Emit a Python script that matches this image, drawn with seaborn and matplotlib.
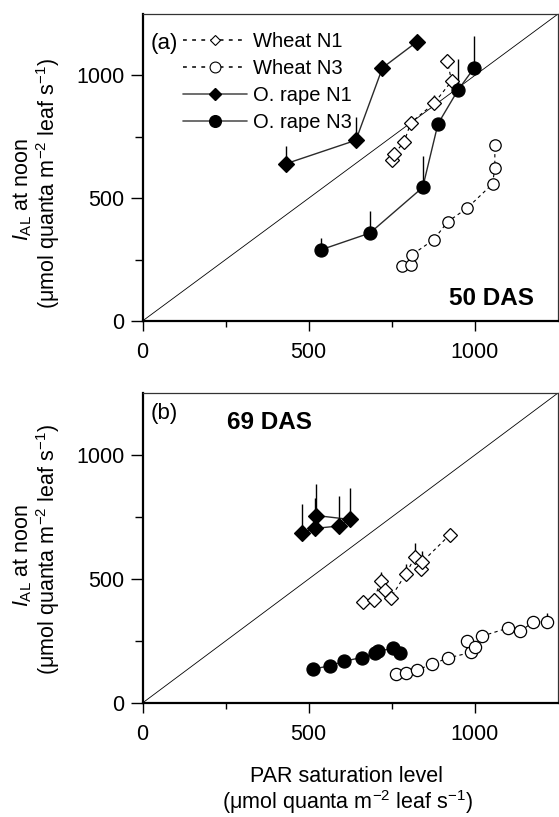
import numpy as np
import pandas as pd
import matplotlib
matplotlib.use('Agg')
import matplotlib.pyplot as plt
import seaborn as sns
from matplotlib.lines import Line2D
from matplotlib.ticker import FixedLocator

# ---------------- data ----------------
# Panel (a) 50 DAS
a_wheat_n1_x = [752, 758, 787, 807, 877, 930, 917]
a_wheat_n1_y = [657, 682, 729, 807, 886, 977, 1058]
a_wheat_n1_err = [0, 0, 0, 0, 35, 0, 0]

a_wheat_n3_x = [782, 807, 810, 876, 918, 977, 1053, 1060, 1060]
a_wheat_n3_y = [222, 229, 269, 331, 404, 460, 558, 623, 718]
a_wheat_n3_err = [25, 0, 0, 0, 0, 0, 0, 0, 0]

a_rape_n1_x = [433, 642, 722, 825]
a_rape_n1_y = [641, 736, 1031, 1136]
a_rape_n1_err = [71, 95, 0, 0]

a_rape_n3_x = [537, 684, 843, 889, 949, 997]
a_rape_n3_y = [290, 358, 544, 803, 940, 1029]
a_rape_n3_err = [48, 91, 127, 0, 125, 131]

# Panel (b) 69 DAS
b_wheat_n1_x = [664, 695, 717, 730, 747, 792, 820, 837, 840, 925]
b_wheat_n1_y = [407, 414, 491, 454, 424, 521, 588, 541, 567, 679]
b_wheat_n1_err = [20, 29, 36, 0, 0, 38, 56, 30, 47, 0]

b_wheat_n3_x = [762, 794, 825, 872, 920, 989, 977, 1000, 1020, 1099, 1137, 1175, 1217]
b_wheat_n3_y = [115, 122, 133, 157, 182, 204, 250, 226, 269, 302, 289, 327, 327]
b_wheat_n3_err = [0, 0, 0, 0, 0, 0, 0, 0, 0, 0, 0, 0, 36]

b_rape_n1_x = [480, 519, 592, 625, 522]
b_rape_n1_y = [686, 704, 714, 740, 756]
b_rape_n1_err = [116, 122, 119, 126, 129]

b_rape_n3_x = [512, 565, 607, 659, 700, 709, 755, 774]
b_rape_n3_y = [137, 150, 169, 183, 200, 210, 220, 202]

series_labels = ["Wheat N1", "Wheat N3", "O. rape N1", "O. rape N3"]
tick_major = [0, 500, 1000]
tick_minor = [250, 750]

# ---------------- style ----------------
sns.set_style("ticks")
plt.rcParams['font.family'] = ['Liberation Sans', 'DejaVu Sans']
plt.rcParams['mathtext.fontset'] = 'custom'
plt.rcParams['mathtext.rm'] = 'Liberation Sans'
plt.rcParams['mathtext.it'] = 'Liberation Sans:italic'
plt.rcParams['mathtext.default'] = 'regular'
for k in ('text.color', 'axes.labelcolor', 'xtick.color', 'ytick.color'):
    plt.rcParams[k] = 'black'

W, H = 559, 817
fig = plt.figure(figsize=(W / 100, H / 100), dpi=100)

def px_axes(l, r, t, b):
    return fig.add_axes([l / W, 1 - b / H, (r - l) / W, (b - t) / H])

axA = px_axes(142.5, 558, 14, 321)
axB = px_axes(142.5, 558, 393, 703)

LINE_GRAY = '#2a2a2a'

def draw(ax, x, y, marker, filled, ms, dashed, err=None, mew=0.9):
    kw = dict(marker=marker, markersize=ms,
              markerfacecolor='black' if filled else 'white',
              markeredgecolor='black', markeredgewidth=mew,
              color='black' if dashed else LINE_GRAY,
              linewidth=0.8 if dashed else 1.0,
              linestyle=(0, (3, 3)) if dashed else '-')
    if err is not None:
        xs = [xi for xi, e in zip(x, err) if e > 0]
        y0 = [yi for yi, e in zip(y, err) if e > 0]
        y1 = [yi + e for yi, e in zip(y, err) if e > 0]
        ax.vlines(xs, y0, y1, color='black', linewidth=1.0, zorder=1.5)
    sns.lineplot(x=x, y=y, sort=False, estimator=None, ax=ax, zorder=3, **kw)

for ax in (axA, axB):
    ax.plot([0, 1250], [0, 1250], color='black', linewidth=0.6, zorder=1)

# panel a
draw(axA, a_wheat_n3_x, a_wheat_n3_y, 'o', False, 8.2, True, a_wheat_n3_err)
draw(axA, a_wheat_n1_x, a_wheat_n1_y, 'D', False, 7.4, True, a_wheat_n1_err)
draw(axA, a_rape_n1_x, a_rape_n1_y, 'D', True, 7.8, False, a_rape_n1_err)
draw(axA, a_rape_n3_x, a_rape_n3_y, 'o', True, 9.4, False, a_rape_n3_err)

# panel b
draw(axB, b_wheat_n3_x, b_wheat_n3_y, 'o', False, 8.8, True, b_wheat_n3_err)
draw(axB, b_wheat_n1_x, b_wheat_n1_y, 'D', False, 7.2, True, b_wheat_n1_err)
draw(axB, b_rape_n1_x, b_rape_n1_y, 'D', True, 8.0, False, b_rape_n1_err)
draw(axB, b_rape_n3_x, b_rape_n3_y, 'o', True, 9.4, False)

TICK_FS = 15.5
for ax in (axA, axB):
    ax.set_xlim(0, 1250)
    ax.set_ylim(0, 1250)
    ax.xaxis.set_major_locator(FixedLocator(tick_major))
    ax.yaxis.set_major_locator(FixedLocator(tick_major))
    ax.xaxis.set_minor_locator(FixedLocator(tick_minor))
    ax.yaxis.set_minor_locator(FixedLocator(tick_minor))
    ax.set_xticklabels([str(t) for t in tick_major])
    ax.set_yticklabels([str(t) for t in tick_major])
    ax.tick_params(axis='both', which='major', direction='out',
                   width=1.0, labelsize=TICK_FS, colors='black')
    ax.tick_params(axis='x', which='major', pad=8, length=7)
    ax.tick_params(axis='y', which='major', pad=4, length=9)
    ax.tick_params(axis='x', which='minor', direction='out', length=4.5, width=1.0)
    ax.tick_params(axis='y', which='minor', direction='out', length=6, width=1.0)
    for s in ('left', 'bottom'):
        ax.spines[s].set_linewidth(1.6)
        ax.spines[s].set_color('black')
    for s in ('top', 'right'):
        ax.spines[s].set_linewidth(0.9)
        ax.spines[s].set_color('#333333')
    ax.set_xlabel('')
    ax.set_ylabel('')
    ax.set_facecolor('white')

LAB_FS = 15.5
UNITS = r'($\mathrm{\mu}$mol quanta m$^{\mathrm{-2}}$ leaf s$^{\mathrm{-1}}$)'

def ylab(cy1, cy2):
    fig.text(23 / W, 1 - cy1 / H, r'$\mathit{I}_{\mathrm{AL}}$ at noon', rotation=90,
             ha='center', va='center', fontsize=LAB_FS)
    fig.text(48 / W, 1 - cy2 / H, UNITS,
             rotation=90, ha='center', va='center', fontsize=LAB_FS)

ylab(189, 184)
ylab(555, 550)

fig.text(347 / W, 1 - 776 / H, 'PAR saturation level', ha='center', va='center', fontsize=LAB_FS)
fig.text(347 / W, 1 - 802 / H, UNITS, ha='center', va='center', fontsize=LAB_FS)

# panel annotations
fig.text(151 / W, 1 - 43 / H, '(a)', ha='left', va='center', fontsize=16)
fig.text(534 / W, 1 - 298 / H, '50 DAS', ha='right', va='center', fontsize=17.5, fontweight='bold')
fig.text(151 / W, 1 - 414 / H, '(b)', ha='left', va='center', fontsize=16)
fig.text(227 / W, 1 - 422 / H, '69 DAS', ha='left', va='center', fontsize=17.5, fontweight='bold')

# legend
handles = [
    Line2D([], [], color='black', lw=1.1, ls=(0, (2.5, 3.5)), marker='D', ms=5.6,
           mfc='white', mec='black', mew=0.8),
    Line2D([], [], color='black', lw=1.1, ls=(0, (2.5, 3.5)), marker='o', ms=7.8,
           mfc='white', mec='black', mew=0.8),
    Line2D([], [], color='#555555', lw=1.2, ls='-', marker='D', ms=5.8,
           mfc='black', mec='black'),
    Line2D([], [], color='#555555', lw=1.2, ls='-', marker='o', ms=8.4,
           mfc='black', mec='black'),
]
leg = axA.legend(handles, series_labels, loc='upper left',
                 bbox_to_anchor=((183 - 142.5) / 415.5, (321 - 32) / 307),
                 frameon=False, fontsize=14.5, handlelength=3.2, handletextpad=0.3,
                 labelspacing=0.4, borderpad=0, borderaxespad=0)

fig.savefig('out.png', dpi=100, facecolor='white')
